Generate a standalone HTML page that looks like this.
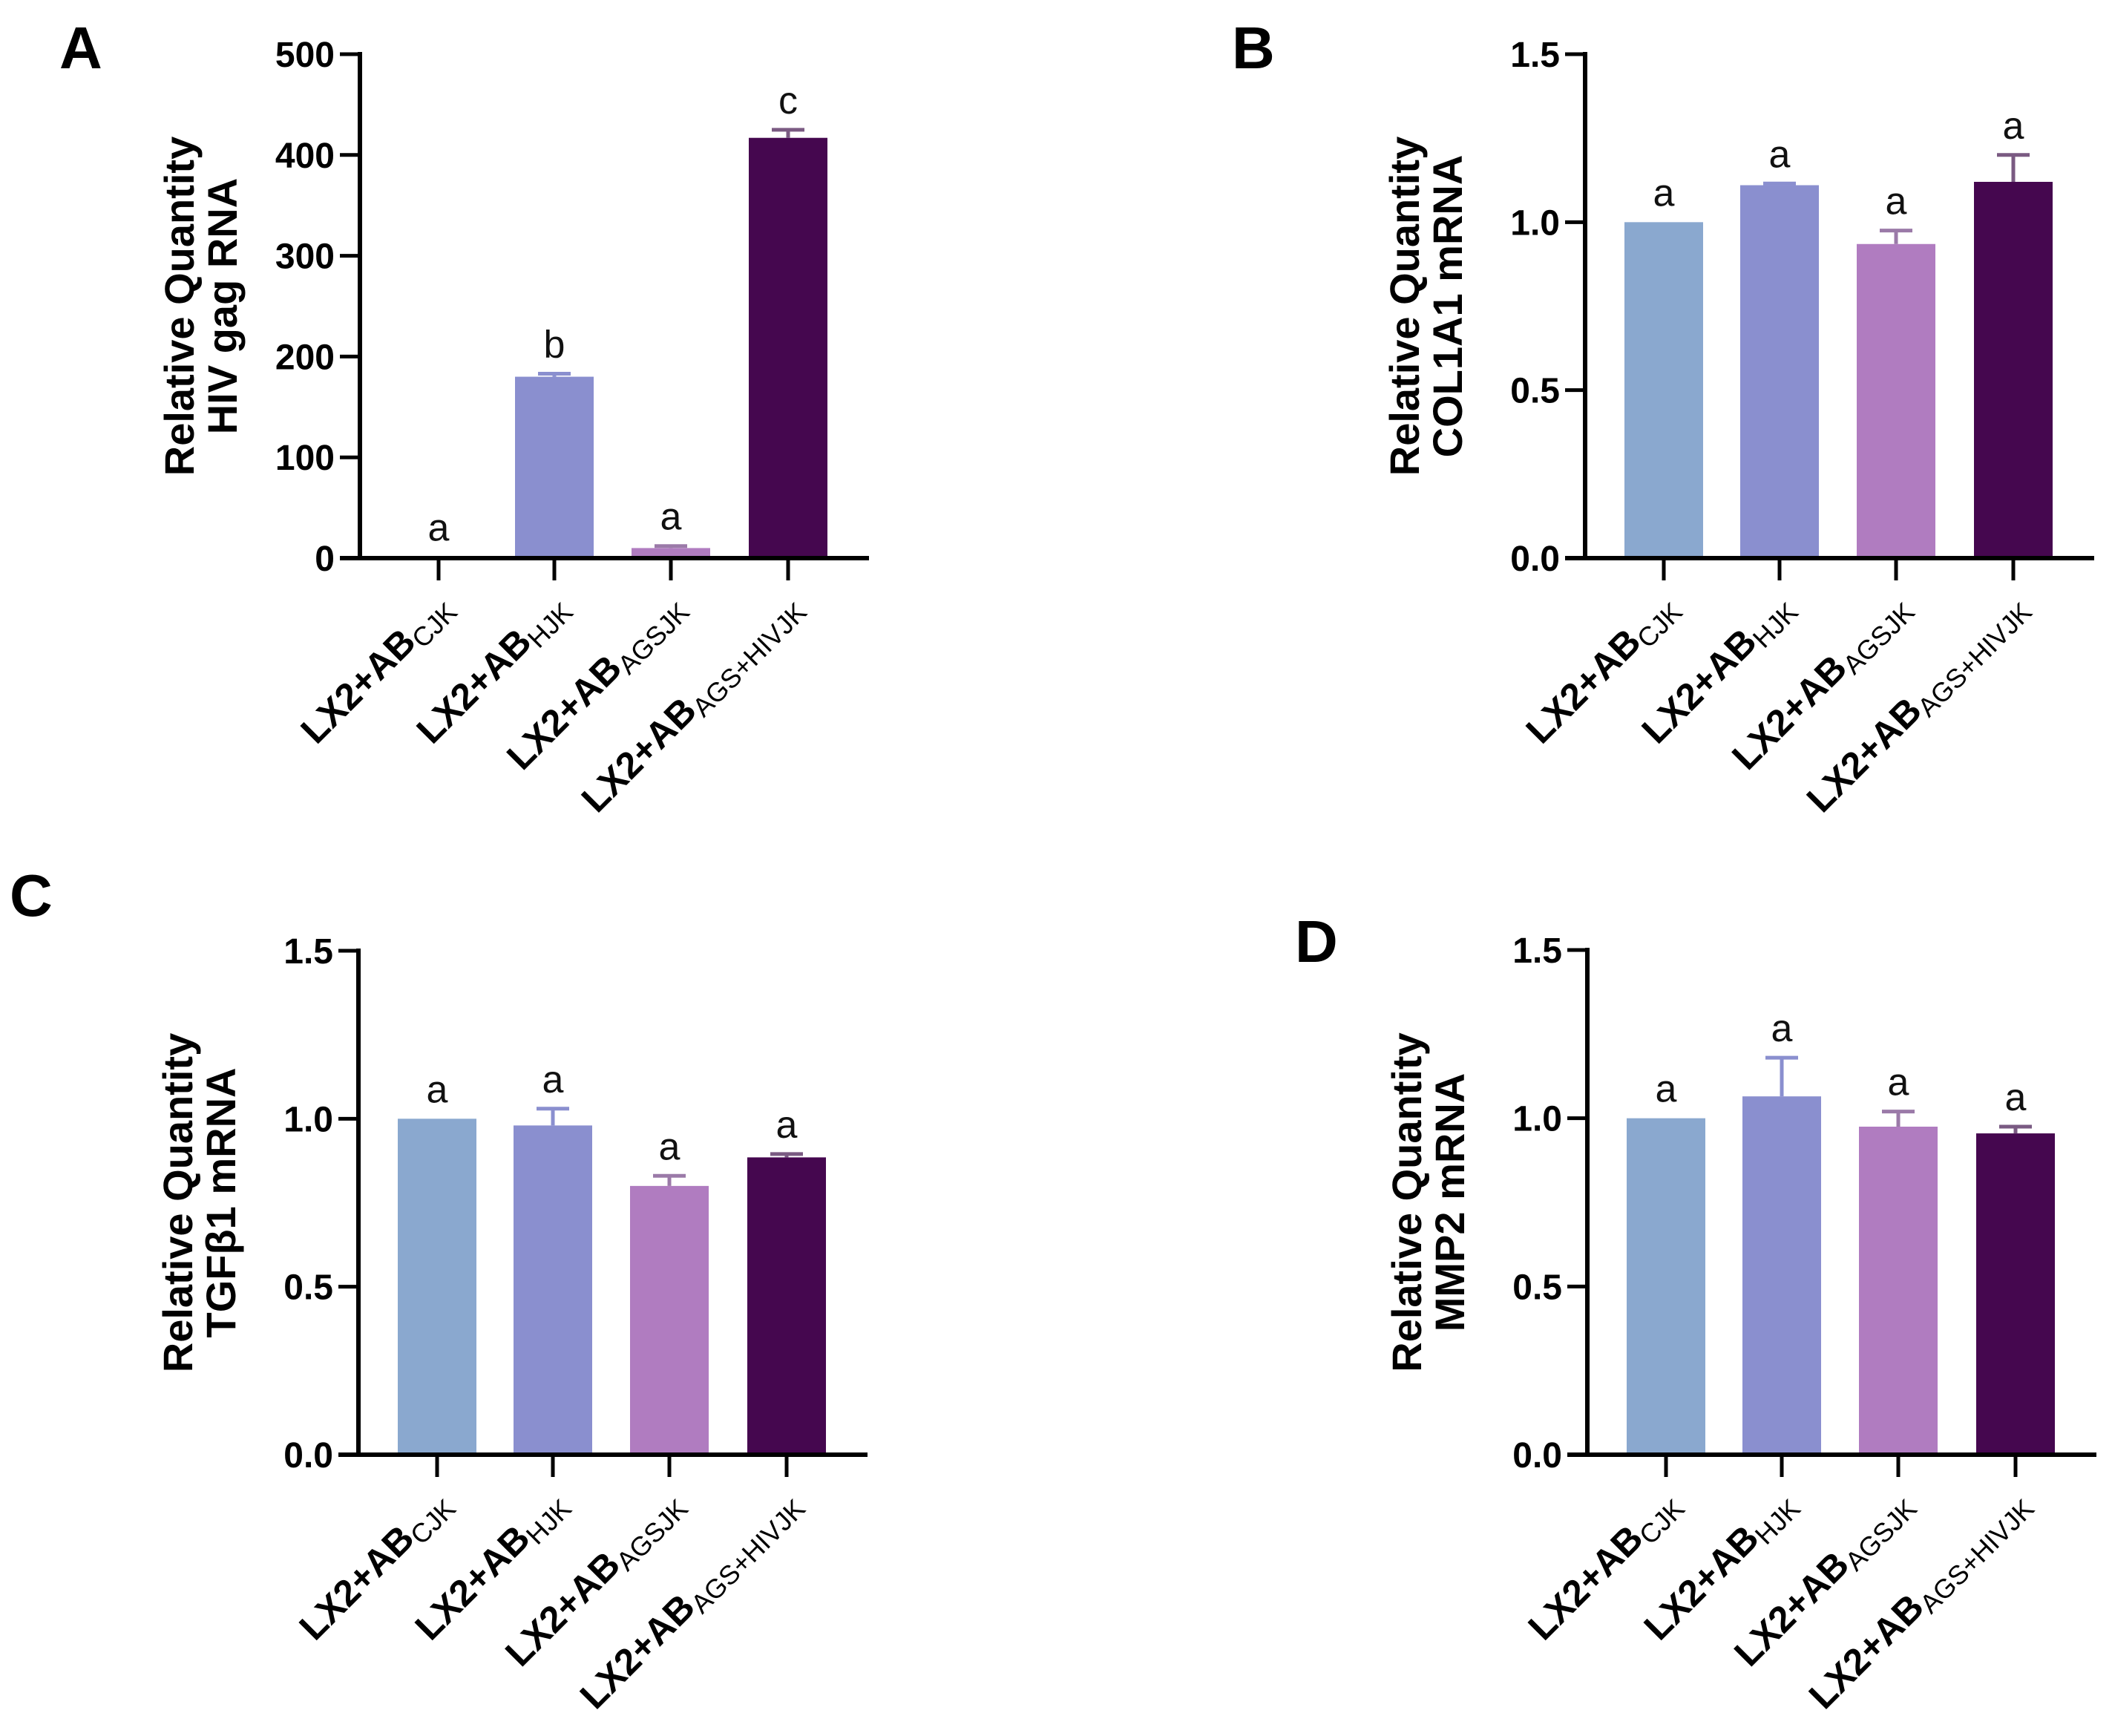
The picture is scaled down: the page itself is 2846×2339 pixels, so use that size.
<!DOCTYPE html>
<html><head><meta charset="utf-8">
<style>
html,body{margin:0;padding:0;background:#fff;}
svg{display:block;font-family:"Liberation Sans",Arial,sans-serif;}
</style></head>
<body>
<svg id="fig" width="2846" height="2339" viewBox="0 0 2846 2339" xmlns="http://www.w3.org/2000/svg"></svg>
<script>
const categories = ["CJK","HJK","AGSJK","AGS+HIVJK"];
const colors = ["#8aa8cf","#8a8fcf","#b07cc0","#45074f"];
const errColors = ["#8aa8cf","#8a8fcf","#9b7aa8","#7a5a82"];
const valuesA = [1, 180, 10, 417];
const errorsA = [0, 3, 2, 8];
const lettersA = ["a","b","a","c"];
const ticksA = [0,100,200,300,400,500];
const tickLabelsA = ["0","100","200","300","400","500"];
const valuesB = [1.0, 1.11, 0.935, 1.12];
const errorsB = [0, 0.005, 0.04, 0.08];
const valuesC = [1.0, 0.98, 0.80, 0.885];
const errorsC = [0, 0.05, 0.03, 0.01];
const valuesD = [1.0, 1.065, 0.975, 0.955];
const errorsD = [0, 0.115, 0.045, 0.02];
const lettersBCD = ["a","a","a","a"];
const ticksRel = [0, 0.5, 1.0, 1.5];
const tickLabelsRel = ["0.0","0.5","1.0","1.5"];

const NS = "http://www.w3.org/2000/svg";
const fig = document.getElementById('fig');
function mk(tag, attrs, parent){
  const e = document.createElementNS(NS, tag);
  for (const k in attrs) e.setAttribute(k, attrs[k]);
  (parent||fig).appendChild(e);
  return e;
}

function panel(cfg){
  const g = mk('g', {});
  
  
  const ax = cfg.axisX, top = cfg.top, zero = cfg.zero;
  const ymax = cfg.ticks[cfg.ticks.length-1];
  const y = v => zero - (v/ymax)*(zero-top);
  const barOff = [106,262,419,577];
  const xc = i => ax + barOff[i];
  const bw = 106;

  const L = mk('text', {x: cfg.letterX, y: cfg.letterY, 'font-size': 80, 'font-weight': 'bold', fill: '#000'}, g);
  L.textContent = cfg.letter;
  
  

  for (let i=0;i<4;i++){
    const v = cfg.values[i];
    const r = mk('rect', {x: xc(i)-bw/2, y: y(v), width: bw, height: zero - y(v), fill: colors[i]}, g);
    
    
    const e = cfg.errors[i];
    if (e > 0){
      const eb = mk('path', {d: `M${xc(i)} ${y(v)} V${y(v+e)} M${xc(i)-22} ${y(v+e)} H${xc(i)+22}`, stroke: errColors[i], 'stroke-width': 5, fill: 'none'}, g);
      
      
    }
    const t = mk('text', {x: xc(i), y: y(v+e) - 22, 'text-anchor': 'middle', 'font-size': 52, fill: '#111'}, g);
    t.textContent = cfg.letters[i];
    
    
  }

  const yaxis = mk('line', {x1: ax, y1: top-3, x2: ax, y2: zero+3, stroke: '#000', 'stroke-width': 6}, g);
  
  
  const xaxis = mk('line', {x1: ax-27, y1: zero, x2: ax+686, y2: zero, stroke: '#000', 'stroke-width': 6}, g);
  
  

  for (let k=0;k<cfg.ticks.length;k++){
    const ty = y(cfg.ticks[k]);
    mk('line', {x1: ax-27, y1: ty, x2: ax, y2: ty, stroke: '#000', 'stroke-width': 5}, g);
    const tl = mk('text', {x: ax-34, y: ty+17, 'text-anchor': 'end', 'font-size': 48, 'font-weight': 'bold', fill: '#000'}, g);
    tl.textContent = cfg.tickLabels[k];
    
    
  }

  for (let i=0;i<4;i++){
    mk('line', {x1: xc(i), y1: zero, x2: xc(i), y2: zero+30, stroke: '#000', 'stroke-width': 5}, g);
    const px = xc(i)+20, py = zero+68;
    const t = mk('text', {x: px, y: py, 'text-anchor': 'end', 'font-size': 50, 'font-weight': 'bold', fill: '#000', transform: `rotate(-45 ${px} ${py})`}, g);
    
    
    const s1 = mk('tspan', {}, t); s1.textContent = 'LX2+AB';
    const s2 = mk('tspan', {'font-size': 36, 'font-weight': 'normal', dy: 10}, t); s2.textContent = categories[i];
  }

  const cy = (top+zero)/2;
  const lines = ["Relative Quantity", cfg.title2];
  const offs = [-244, -186];
  for (let j=0;j<2;j++){
    const tx = ax + offs[j] + 20;
    const t = mk('text', {x: tx, y: cy, 'text-anchor': 'middle', 'font-size': 56, 'font-weight': 'bold', fill: '#000', transform: `rotate(-90 ${tx} ${cy})`}, g);
    t.textContent = lines[j];
    
    
  }
}

panel({letter:'A', letterX:80, letterY:92, axisX:485, top:73, zero:752, values:valuesA, errors:errorsA, letters:lettersA, ticks:ticksA, tickLabels:tickLabelsA, title2:'HIV gag RNA'});
panel({letter:'B', letterX:1660, letterY:92, axisX:2136, top:73, zero:752, values:valuesB, errors:errorsB, letters:lettersBCD, ticks:ticksRel, tickLabels:tickLabelsRel, title2:'COL1A1 mRNA'});
panel({letter:'C', letterX:13, letterY:1234, axisX:483, top:1281, zero:1960, values:valuesC, errors:errorsC, letters:lettersBCD, ticks:ticksRel, tickLabels:tickLabelsRel, title2:'TGFβ1 mRNA'});
panel({letter:'D', letterX:1745, letterY:1296, axisX:2139, top:1280, zero:1960, values:valuesD, errors:errorsD, letters:lettersBCD, ticks:ticksRel, tickLabels:tickLabelsRel, title2:'MMP2 mRNA'});
</script>
</body></html>
